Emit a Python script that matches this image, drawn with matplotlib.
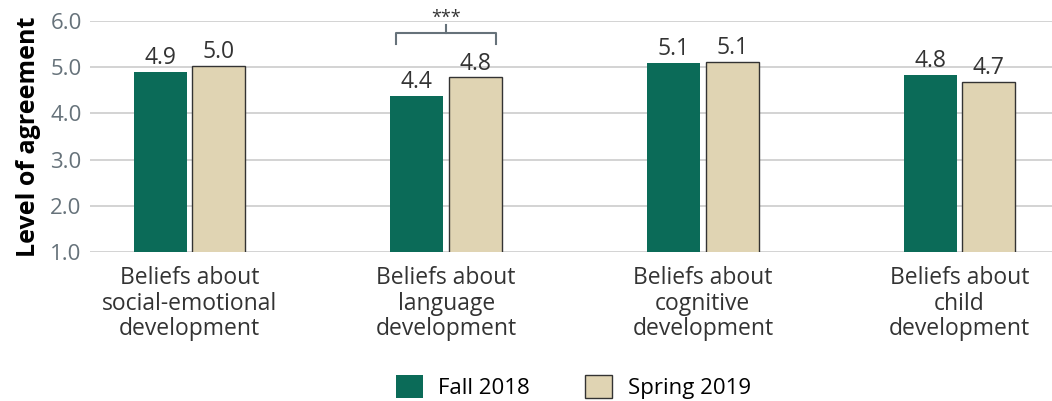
import numpy as np
import matplotlib.pyplot as plt

plt.rcParams['font.family'] = ['Open Sans', 'DejaVu Sans']

categories = ["Beliefs about\nsocial-emotional\ndevelopment",
              "Beliefs about\nlanguage\ndevelopment",
              "Beliefs about\ncognitive\ndevelopment",
              "Beliefs about\nchild\ndevelopment"]
fall = [4.90, 4.38, 5.10, 4.83]
spring = [5.02, 4.78, 5.11, 4.68]
series = ["Fall 2018", "Spring 2019"]

green = '#0b6b58'
beige = '#e0d4b3'
gray = '#66727a'
dark = '#333333'

fig = plt.figure(figsize=(10.52, 4.01), dpi=100)
ax = fig.add_axes([0.0856, 0.3716, 0.9144, 0.576])

x = np.arange(len(categories))
w = 0.206
off = 0.114
b1 = ax.bar(x - off, fall, w, color=green, label=series[0], zorder=3)
b2 = ax.bar(x + off, spring, w, color=beige, edgecolor=dark, linewidth=1.0,
            label=series[1], zorder=3)

for bars, vals in ((b1, fall), (b2, spring)):
    for r, v in zip(bars, vals):
        ax.text(r.get_x() + r.get_width() / 2, v + 0.04, f"{v:.1f}",
                ha='center', va='bottom', fontsize=16.5, color=dark)

ax.set_ylim(1, 6)
ax.set_xlim(-0.387, 3.36)
ax.set_yticks(np.arange(1, 7))
ax.set_yticklabels([f"{t:.1f}" for t in np.arange(1, 7)])
ax.yaxis.grid(True, color='#d0d0d0', linewidth=1.3, zorder=0)
ax.set_axisbelow(True)
ax.tick_params(axis='y', length=0, labelsize=16, labelcolor=gray, pad=6)
ax.tick_params(axis='x', length=0, labelsize=16.5, labelcolor=dark, pad=10)
ax.set_xticks(x)
ax.set_xticklabels(categories, linespacing=1.1)
for s in ax.spines.values():
    s.set_visible(False)
ax.set_ylabel("Level of agreement", fontsize=18, fontweight='bold', color='black', labelpad=7)

# significance bracket
xl = x[1] - off - w / 2 + 0.023
xr = x[1] + off + w / 2 - 0.023
yb, yt = 5.50, 5.74
ax.plot([xl, xl, xr, xr], [yb, yt, yt, yb], color=gray, linewidth=1.5, clip_on=False)
ax.plot([x[1], x[1]], [yt, yt + 0.17], color=gray, linewidth=1.5, clip_on=False)
ax.text(x[1], yt + 0.14, "***", ha='center', va='bottom', fontsize=13, color=dark)

fig.legend(handles=[b1, b2], labels=series, loc='lower center', ncol=2,
           bbox_to_anchor=(0.545, -0.045), frameon=False, fontsize=16,
           handlelength=1.2, handleheight=1.2, columnspacing=2.5, handletextpad=0.7)

fig.savefig('out.png', dpi=100)
